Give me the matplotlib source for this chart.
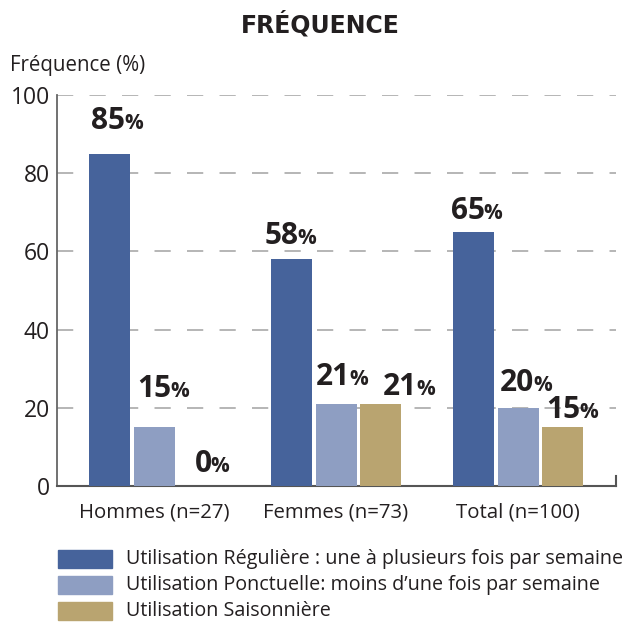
import matplotlib
matplotlib.use("Agg")
import matplotlib.pyplot as plt
import matplotlib.patches as patches
import numpy as np

# ---- data ----
groups = ["Hommes (n=27)", "Femmes (n=73)", "Total (n=100)"]
series_names = [
    "Utilisation Régulière : une à plusieurs fois par semaine",
    "Utilisation Ponctuelle: moins d\u2019une fois par semaine",
    "Utilisation Saisonnière",
]
regular = [85, 58, 65]
ponctual = [15, 21, 20]
seasonal = [0, 21, 15]
y_ticks = [0, 20, 40, 60, 80, 100]

# ---- style ----
colors = ["#46639b", "#8e9ec2", "#b9a470"]
TXT = "#231f20"
FONT = ["Open Sans", "DejaVu Sans"]
plt.rcParams["font.family"] = FONT

W, H = 622, 622
fig = plt.figure(figsize=(W / 100, H / 100), dpi=100)

def fx(px):
    return px / W

def fy(py):
    return 1 - py / H

ax = fig.add_axes([fx(57), fy(486), fx(616 - 57), (486 - 95) / H])

x = np.arange(len(groups))
bar_w = 0.2253
step = 0.2445
series = [regular, ponctual, seasonal]
bars = []
for i, (vals, col) in enumerate(zip(series, colors)):
    b = ax.bar(x + (i - 1) * step, vals, width=bar_w, color=col, zorder=3)
    bars.append(b)

ax.set_xlim(-0.533, 2.538)
ax.set_ylim(0, 100)
ax.set_yticks(y_ticks)
ax.tick_params(axis="y", length=0, pad=5, labelsize=16.5, labelcolor=TXT)
ax.set_xticks(x)
ax.set_xticklabels(groups)
ax.tick_params(axis="x", length=0, pad=12, labelsize=14.7, labelcolor=TXT)

ax.yaxis.grid(True, color="#b0b0b0", linestyle=(0, (9, 9)), linewidth=1.3, zorder=0)
ax.set_axisbelow(True)
ax.spines["top"].set_visible(False)
ax.spines["left"].set_color("#666666")
ax.spines["left"].set_linewidth(1.3)
ax.spines["bottom"].set_color("#555555")
ax.spines["bottom"].set_linewidth(1.5)
ax.spines["right"].set_color("#555555")
ax.spines["right"].set_linewidth(1.5)
ax.spines["right"].set_bounds(0, 2.6)

# value labels: per-label offsets (px) of text centre from bar centre, baseline above bar top
offsets = [
    [(7.5, 25), (9.5, 30), (5, 14)],
    [(-1, 15), (6, 19), (28.5, 9)],
    [(3, 13), (7.5, 17), (9.5, 9)],
]
for i, b in enumerate(bars):
    for j, rect in enumerate(b):
        val = series[i][j]
        dx, dy = offsets[j][i]
        cx = rect.get_x() + rect.get_width() / 2
        anchor = (dx + 8) * 0.72
        ax.annotate(f"{val}", (cx, val), xytext=(anchor, dy * 0.72), textcoords="offset points",
                    ha="right", va="baseline", fontsize=21.5, fontweight="bold", color=TXT)
        ax.annotate("%", (cx, val), xytext=(anchor - 0.5, dy * 0.72), textcoords="offset points",
                    ha="left", va="baseline", fontsize=15, fontweight="bold", color=TXT)

fig.text(fx(320), fy(33), "FRÉQUENCE", ha="center", va="baseline", fontsize=17,
         fontweight="bold", family=["DejaVu Sans"], color=TXT)
fig.text(fx(10), fy(71), "Fréquence (%)", ha="left", va="baseline", fontsize=14.8, color=TXT)

# legend
rows = [550, 576, 602]
for name, col, top in zip(series_names, colors, rows):
    fig.add_artist(patches.Rectangle((fx(58), fy(top + 18)), fx(54), 18 / H, color=col,
                                     transform=fig.transFigure))
    fig.text(fx(126), fy(top + 9), name, ha="left", va="center", fontsize=14.2, color=TXT)

fig.savefig("out.png", dpi=100)
